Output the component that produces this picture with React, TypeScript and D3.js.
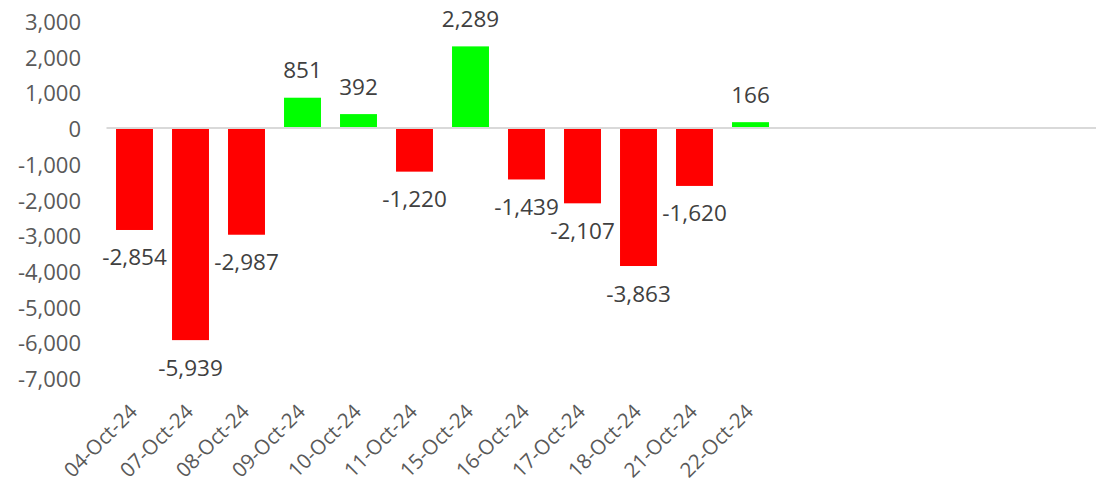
import React from "react";
import * as d3 from "d3";

const categories = ["04-Oct-24","07-Oct-24","08-Oct-24","09-Oct-24","10-Oct-24","11-Oct-24","15-Oct-24","16-Oct-24","17-Oct-24","18-Oct-24","21-Oct-24","22-Oct-24"];
const values = [-2854,-5939,-2987,851,392,-1220,2289,-1439,-2107,-3863,-1620,166];
const yTicks = [3000,2000,1000,0,-1000,-2000,-3000,-4000,-5000,-6000,-7000];

const W = 1096, H = 485;
const FONT = "'Open Sans', 'Noto Sans', sans-serif";

export default function App() {
  const x = d3.scaleBand<string>().domain(categories).range([106.5, 106.5 + 56 * categories.length]).paddingInner(0.34).paddingOuter(0.17);
  const y = d3.scaleLinear().domain([-7000, 3000]).range([378, 21]);
  const fmt = d3.format(",");
  return (
    <svg width={W} height={H} style={{ position: "absolute", left: 0, top: 0 }}>
      <rect x={0} y={0} width={W} height={H} fill="#fff" />
      {yTicks.map((t) => (
        <text key={t} x={81} y={y(t)} textAnchor="end" dominantBaseline="central" fontFamily={FONT} fontSize={22} fill="#595959">
          {fmt(t).replace("−", "-")}
        </text>
      ))}
      {categories.map((c, i) => {
        const v = values[i];
        const bx = x(c)!;
        const y0 = y(0), y1 = y(v);
        return (
          <rect key={c} x={bx} width={x.bandwidth()} y={Math.min(y0, y1)} height={Math.abs(y1 - y0)} fill={v >= 0 ? "#00FF00" : "#FF0000"} />
        );
      })}
      <line x1={106.5} x2={W} y1={y(0)} y2={y(0)} stroke="#d9d9d9" strokeWidth={2} />
      {categories.map((c, i) => {
        const v = values[i];
        const cx = x(c)! + x.bandwidth() / 2;
        const ly = v >= 0 ? y(v) - 28 : y(v) + 27;
        return (
          <text key={c} x={cx} y={ly} textAnchor="middle" dominantBaseline="central" fontFamily={FONT} fontSize={22.5} fill="#404040">
            {fmt(v).replace("−", "-")}
          </text>
        );
      })}
      {categories.map((c) => {
        const cx = x(c)! + x.bandwidth() / 2;
        return (
          <text key={c} transform={`translate(${cx + 4},${413}) rotate(-45)`} textAnchor="end" fontFamily={FONT} fontSize={20.5} fill="#595959">
            {c}
          </text>
        );
      })}
    </svg>
  );
}
